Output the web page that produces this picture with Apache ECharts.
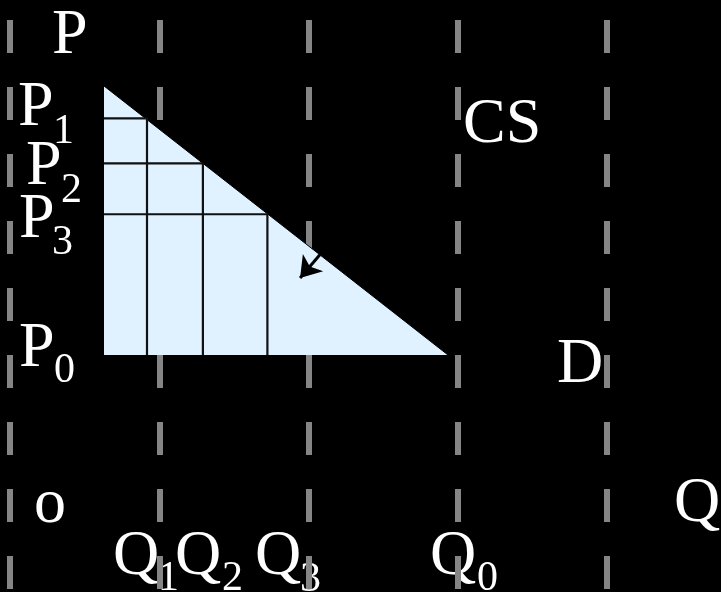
<!DOCTYPE html>
<html>
<head>
<meta charset="utf-8">
<script src="https://cdn.jsdelivr.net/npm/echarts@6/dist/echarts.min.js"></script>
<style>
  html, body { margin: 0; padding: 0; background: #000; }
  #main { width: 721px; height: 592px; }
</style>
</head>
<body>
<div id="main"></div>
<script>
// demand line (Q, P) end points
var demandQ = [0, 8];
var demandP = [6.25, 0];
// the three price steps on the demand line
var stepQ = [1, 2.3, 3.8];
var stepP = [5.5, 4.45, 3.27];
// arrow pointing into the surplus area
var arrowFrom = [5.02, 2.33];
var arrowTo = [4.56, 1.79];
// background dashed guides (one per unit)
var guideMin = 0;
var guideMax = 4;
// label texts
var priceSubs = ['1', '2', '3', '0'];
var qtySubs = ['1', '2', '3', '0'];

var chartDom = document.getElementById('main');
var myChart = echarts.init(chartDom);
var option;

var font = 'Liberation Serif, Times New Roman, serif';
var big = 64, small = 42;

function txt(s, x, base, size) {
  // x = left edge, base = alphabetic baseline
  return {
    type: 'text',
    z: -1,
    x: x,
    y: base - size * 0.34 + 4,
    style: {
      text: s,
      fill: '#fff',
      fontFamily: font,
      fontSize: size,
      align: 'left',
      verticalAlign: 'middle'
    }
  };
}

var graphics = [
  txt('P', 52, 54, big),
  txt('P', 18, 126, big), txt(priceSubs[0], 53, 142, small),
  txt('P', 26, 185, big), txt(priceSubs[1], 61, 201, small),
  txt('P', 19, 238, big), txt(priceSubs[2], 52, 253, small),
  txt('P', 19, 367, big), txt(priceSubs[3], 54, 381, small),
  txt('CS', 463, 143, big),
  txt('D', 557, 383, big),
  txt('o', 34, 523, big),
  txt('Q', 674, 522, big),
  txt('Q', 113, 575, big), txt(qtySubs[0], 158, 589, small),
  txt('Q', 175, 575, big), txt(qtySubs[1], 222, 589, small),
  txt('Q', 255, 575, big), txt(qtySubs[2], 300, 590, small),
  txt('Q', 430, 575, big), txt(qtySubs[3], 477, 589, small)
];

var series = [];
series.push({
  type: 'line',
  xAxisIndex: 0,
  yAxisIndex: 0,
  data: demandQ.map(function (q, i) { return [q, demandP[i]]; }),
  symbol: 'none',
  lineStyle: { color: '#000', width: 1 },
  areaStyle: { color: '#E0F2FF', opacity: 1 },
  z: 2,
  silent: true,
  animation: false
});
for (var i = 0; i < stepQ.length; i++) {
  series.push({
    type: 'line',
    xAxisIndex: 0,
    yAxisIndex: 0,
    data: [[0, stepP[i]], [stepQ[i], stepP[i]], [stepQ[i], 0]],
    symbol: 'none',
    lineStyle: { color: '#111', width: 2.2 },
    z: 3,
    silent: true,
    animation: false
  });
}
series.push({
  type: 'lines',
  coordinateSystem: 'cartesian2d',
  xAxisIndex: 0,
  yAxisIndex: 0,
  data: [{ coords: [arrowFrom, arrowTo] }],
  symbol: ['none', 'arrow'],
  symbolSize: 20,
  lineStyle: { color: '#000', width: 3, opacity: 1 },
  z: 4,
  silent: true,
  animation: false
});

option = {
  backgroundColor: '#000',
  animation: false,
  grid: [
    { left: 104, top: 86, width: 344, height: 269, show: false },
    { left: 10, top: 0, width: 597, bottom: 0, show: false }
  ],
  xAxis: [
    { gridIndex: 0, type: 'value', min: 0, max: demandQ[1], show: false },
    {
      gridIndex: 1, type: 'value', min: guideMin, max: guideMax, interval: 1,
      axisLine: { show: false }, axisTick: { show: false }, axisLabel: { show: false },
      splitLine: {
        show: true,
        lineStyle: { color: '#858585', width: 6, type: [33, 34], dashOffset: 47 }
      }
    }
  ],
  yAxis: [
    { gridIndex: 0, type: 'value', min: 0, max: demandP[0], show: false },
    {
      gridIndex: 1, type: 'value', min: 0, max: 1,
      axisLine: { show: false }, axisTick: { show: false }, axisLabel: { show: false },
      splitLine: { show: false }
    }
  ],
  graphic: graphics,
  series: series
};

option && myChart.setOption(option);
</script>
</body>
</html>
